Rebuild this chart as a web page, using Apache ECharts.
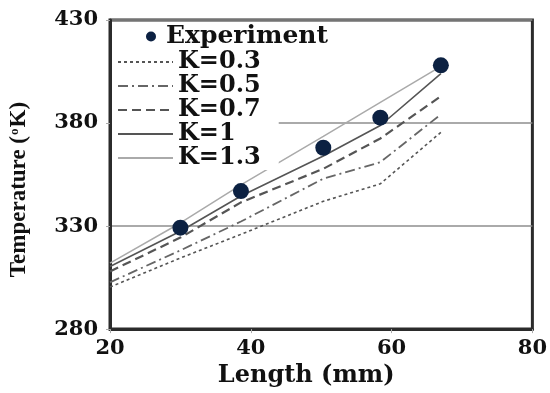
<!DOCTYPE html>
<html>
<head>
<meta charset="utf-8">
<script src="https://cdn.jsdelivr.net/npm/echarts@6/dist/echarts.min.js"></script>
<style>html,body{margin:0;padding:0;background:#fff;}#c{width:550px;height:393px;}</style>
</head>
<body>
<div id="c"></div>
<script>
// ---- data ----
var lineX = [20, 30, 38.6, 50.3, 58.4, 67];
var k03 = [300.4, 314.5, 326.0, 342.0, 350.5, 375.5];
var k05 = [302.7, 318.2, 332.2, 353.0, 361.0, 384.2];
var k07 = [308.0, 324.4, 341.5, 357.8, 372.5, 393.0];
var k10 = [310.4, 327.5, 344.6, 364.0, 378.8, 404.0];
var k13 = [312.0, 331.5, 350.0, 373.5, 390.0, 407.5];
var expX = [30, 38.6, 50.3, 58.4, 67];
var expY = [329.2, 347.0, 368.0, 382.6, 408.0];
var seriesNames = ['Experiment', 'K=0.3', 'K=0.5', 'K=0.7', 'K=1', 'K=1.3'];
var xTicks = [20, 40, 60, 80];
var yTicks = [280, 330, 380, 430];

function pairs(xs, ys) { return xs.map(function (x, i) { return [x, ys[i]]; }); }

var serif = '"DejaVu Serif", "Liberation Serif", serif';
var chart = echarts.init(document.getElementById('c'), null, {renderer: 'canvas'});

function lineSeries(name, ys, color, width, type) {
  return {
    name: name, type: 'line', data: pairs(lineX, ys), symbol: 'none',
    lineStyle: {color: color, width: width, type: type}, itemStyle: {color: color}, z: 2
  };
}

chart.setOption({
  animation: false,
  backgroundColor: '#fff',
  grid: {left: 105, right: 16, top: 20, bottom: 51, show: true, borderColor: '#2b2b2b', borderWidth: 3, containLabel: false},
  xAxis: {
    type: 'value', min: xTicks[0], max: xTicks[xTicks.length - 1], interval: 20,
    name: 'Length (mm)', nameLocation: 'middle', nameGap: 29,
    nameTextStyle: {fontFamily: serif, fontWeight: 'bold', fontSize: 24, color: '#111', padding: [0, 30, 0, 0]},
    axisLine: {show: true, lineStyle: {color: '#2b2b2b', width: 3}},
    axisTick: {show: true, length: 4, lineStyle: {color: '#aaa'}},
    axisLabel: {fontFamily: serif, fontWeight: 'bold', fontSize: 21, color: '#111', margin: 9},
    splitLine: {show: false}
  },
  yAxis: {
    type: 'value', min: yTicks[0], max: yTicks[yTicks.length - 1], interval: 50,
    name: 'Temperature ({o|o}K)', nameLocation: 'middle', nameGap: 79, nameRotate: 90,
    nameTextStyle: {fontFamily: '"Liberation Serif", serif', fontWeight: 'bold', fontSize: 23, color: '#111', padding: [0, 30, 0, 0],
      rich: {o: {fontFamily: '"Liberation Serif", serif', fontWeight: 'bold', fontSize: 13, color: '#111', verticalAlign: 'top', padding: [0, 1, 9, 1]}}},
    axisLine: {show: true, lineStyle: {color: '#2b2b2b', width: 3}},
    axisTick: {show: true, length: 4, lineStyle: {color: '#aaa'}},
    axisLabel: {fontFamily: serif, fontWeight: 'bold', fontSize: 21, color: '#111', margin: 12},
    splitLine: {show: true, lineStyle: {color: '#8e8e8e', width: 1.5}}
  },
  legend: [
    {
      data: [seriesNames[0]], orient: 'vertical', left: 112, top: 22,
      padding: [2, 10, 2, 34], itemWidth: 20, itemHeight: 10, itemGap: 0,
      backgroundColor: '#fff',
      textStyle: {fontFamily: serif, fontWeight: 'bold', fontSize: 25, color: '#111', lineHeight: 24}
    },
    {
      data: seriesNames.slice(1), orient: 'vertical', left: 112, top: 46,
      padding: [4, 18, 0, 5], itemWidth: 55, itemHeight: 14, itemGap: 0,
      backgroundColor: '#fff', itemStyle: {opacity: 0},
      textStyle: {fontFamily: serif, fontWeight: 'bold', fontSize: 24, color: '#111', lineHeight: 24}
    }
  ],
  series: [
    {
      name: seriesNames[0], type: 'scatter', data: pairs(expX, expY), symbol: 'circle', symbolSize: 16,
      itemStyle: {color: '#0c2142', opacity: 1}, z: 5
    },
    lineSeries(seriesNames[1], k03, '#555', 1.6, [3, 3]),
    lineSeries(seriesNames[2], k05, '#666', 1.8, [10, 4, 2, 4]),
    lineSeries(seriesNames[3], k07, '#555', 2.2, [9, 5]),
    lineSeries(seriesNames[4], k10, '#555', 1.6, 'solid'),
    lineSeries(seriesNames[5], k13, '#aaa', 1.5, 'solid')
  ]
});
</script>
</body>
</html>
